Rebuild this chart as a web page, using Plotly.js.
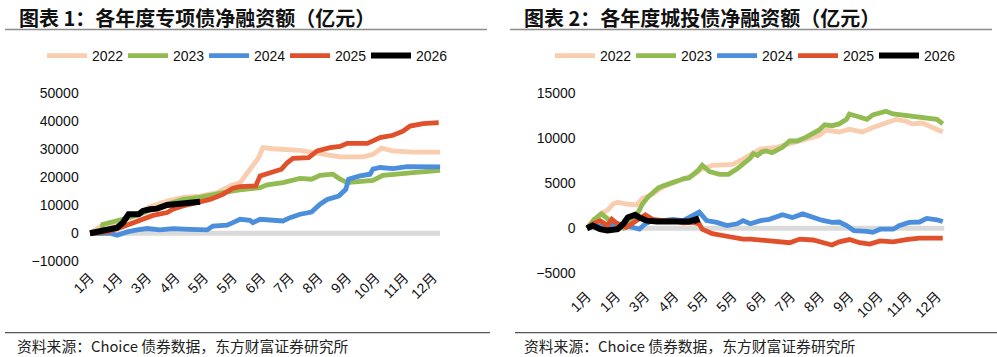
<!DOCTYPE html>
<html><head><meta charset="utf-8">
<script src="https://cdn.plot.ly/plotly-3.0.1.min.js"></script>
<style>html,body{margin:0;padding:0;background:#fff}</style>
</head><body><div id="chart" style="width:997px;height:357px"></div>
<script>
const years = ["2022", "2023", "2024", "2025", "2026"];
const lineColors = ["#F9CDB0", "#92BB52", "#4A8EDC", "#E0502A", "#000000"];
const monthTickVals = [0, 20, 40, 60, 80, 100, 120, 140, 160, 180, 200, 220, 240];
const monthTickText = ["1月", "1月", "3月", "4月", "5月", "5月", "6月", "7月", "8月", "9月", "10月", "11月", "12月"];
const y1TickVals = [-10000, 0, 10000, 20000, 30000, 40000, 50000];
const y1TickText = ["−10000", "0", "10000", "20000", "30000", "40000", "50000"];
const y2TickVals = [-5000, 0, 5000, 10000, 15000];
const y2TickText = ["−5000", "0", "5000", "10000", "15000"];

// 图表1 专项债净融资额 (x = 交易日序号, y = 亿元)
const sp2022x = [0, 9, 19, 30, 42, 54, 65, 77, 89, 98, 105, 110, 114, 118, 121, 128, 147, 159, 166, 175, 191, 198, 204, 212, 226, 245];
const sp2022y = [0, 3000, 3800, 6000, 9500, 11500, 12800, 13300, 14500, 16900, 18100, 21700, 24000, 27000, 30600, 30200, 29600, 28800, 28000, 27300, 27300, 28200, 30400, 29400, 29000, 29000];
const sp2023x = [0, 8, 9, 14, 23, 35, 42, 54, 65, 75, 86, 96, 105, 112, 119, 124, 135, 147, 155, 161, 170, 175, 180, 194, 198, 205, 217, 226, 245];
const sp2023y = [0, 0, 3200, 3800, 5000, 6800, 8300, 10400, 12100, 12700, 13900, 14800, 15500, 15700, 16300, 17300, 18100, 19600, 19300, 20700, 21100, 19300, 18100, 18700, 18900, 20700, 21100, 21700, 22500];
const sp2024x = [0, 14, 19, 26, 33, 40, 49, 58, 70, 82, 86, 96, 100, 105, 112, 114, 119, 135, 140, 147, 155, 161, 166, 174, 179, 181, 189, 196, 198, 203, 212, 222, 245];
const sp2024y = [0, 0, -700, 500, 1200, 1700, 1200, 1700, 1400, 1200, 2600, 2900, 3800, 5000, 4600, 3800, 5000, 4400, 5600, 6800, 7600, 10400, 12100, 13300, 15700, 19300, 20500, 21100, 22900, 23500, 23100, 23800, 23700];
const sp2025x = [0, 12, 21, 30, 37, 44, 54, 58, 65, 75, 84, 93, 100, 105, 116, 119, 128, 134, 138, 142, 153, 159, 168, 175, 180, 194, 198, 203, 212, 219, 224, 233, 244];
const sp2025y = [0, 500, 2000, 3800, 5000, 6400, 7400, 8600, 9800, 11000, 12100, 13900, 16100, 16700, 16900, 20500, 21700, 22900, 25200, 26800, 27000, 29400, 30600, 31000, 32100, 32100, 33000, 34200, 35000, 36500, 38300, 39200, 39500];
const sp2026x = [0, 12, 19, 23, 27, 34, 37, 42, 47, 54, 63, 70, 77];
const sp2026y = [0, 1400, 2000, 3800, 6800, 6800, 8000, 8600, 8800, 10100, 10600, 10700, 11300];

// 图表2 城投债净融资额
const ct2022x = [0, 5, 9, 14, 18, 21, 27, 34, 38, 45, 52, 59, 66, 73, 79, 86, 93, 100, 107, 112, 119, 130, 139, 150, 159, 164, 173, 180, 189, 196, 203, 212, 219, 223, 230, 237, 244];
const ct2022y = [0, 700, 1600, 2000, 2700, 2900, 2700, 2600, 3300, 3800, 4600, 5100, 5500, 5900, 6600, 7000, 7000, 7100, 7700, 8100, 8800, 9000, 9400, 9900, 10300, 10900, 10700, 11000, 10700, 11200, 11600, 12100, 11900, 11600, 11700, 11200, 10700];
const ct2023x = [0, 5, 10, 14, 19, 25, 29, 34, 38, 42, 45, 49, 52, 56, 59, 63, 66, 70, 73, 76, 79, 84, 91, 97, 103, 107, 112, 114, 117, 120, 123, 127, 130, 134, 139, 144, 150, 154, 159, 163, 168, 173, 178, 180, 185, 192, 196, 201, 205, 210, 216, 223, 228, 235, 240, 244];
const ct2023y = [0, 1000, 1600, 1000, 400, 0, 500, 1400, 2700, 3500, 4000, 4500, 4700, 5000, 5100, 5300, 5500, 5600, 6000, 6400, 7000, 6300, 6000, 6000, 6600, 7100, 7800, 8300, 8100, 8500, 8600, 8400, 8600, 9000, 9700, 9700, 10100, 10500, 10900, 11500, 11400, 11600, 12100, 12700, 12400, 12100, 12600, 12800, 13000, 12700, 12600, 12500, 12300, 12200, 12100, 11600];
const ct2024x = [0, 7, 14, 21, 27, 32, 36, 40, 45, 52, 59, 66, 73, 77, 82, 89, 96, 103, 107, 112, 119, 125, 134, 141, 148, 155, 161, 168, 173, 178, 183, 192, 196, 201, 210, 214, 221, 228, 233, 240, 244];
const ct2024y = [0, 300, 100, 500, 300, 0, -100, 500, 850, 850, 1000, 850, 1400, 1800, 850, 650, 300, 500, 850, 500, 850, 1000, 1500, 1200, 1600, 1200, 900, 650, 700, 300, -250, -350, -450, -100, -100, 300, 650, 700, 1100, 950, 750];
const ct2025x = [0, 4, 9, 14, 17, 21, 27, 32, 36, 40, 45, 52, 59, 66, 73, 77, 79, 86, 93, 100, 107, 112, 119, 126, 139, 146, 155, 161, 168, 173, 180, 187, 194, 201, 210, 219, 228, 237, 244];
const ct2025y = [0, 500, 850, 300, 1000, 500, 100, 650, 1200, 1500, 1000, 850, 850, 600, 650, 500, -100, -600, -800, -1000, -1200, -1200, -1300, -1400, -1600, -1200, -1300, -1550, -1850, -1500, -1250, -1600, -1750, -1400, -1500, -1250, -1100, -1100, -1100];
const ct2026x = [0, 4, 9, 14, 21, 25, 28, 33, 36, 41, 48, 57, 66, 70, 75, 76];
const ct2026y = [0, 300, -100, -250, -100, 500, 1200, 1500, 1200, 850, 750, 750, 850, 750, 1000, 600];

const panel1X = [sp2022x, sp2023x, sp2024x, sp2025x, sp2026x];
const panel1Y = [sp2022y, sp2023y, sp2024y, sp2025y, sp2026y];
const panel2X = [ct2022x, ct2023x, ct2024x, ct2025x, ct2026x];
const panel2Y = [ct2022y, ct2023y, ct2024y, ct2025y, ct2026y];

const traces = [];
years.forEach((yr, i) => {
  traces.push({
    type: 'scatter', mode: 'lines', name: yr, x: panel1X[i], y: panel1Y[i],
    xaxis: 'x', yaxis: 'y', legend: 'legend',
    line: {color: lineColors[i], width: i === 4 ? 6 : 4.8, shape: 'linear'}
  });
});
years.forEach((yr, i) => {
  traces.push({
    type: 'scatter', mode: 'lines', name: yr, x: panel2X[i], y: panel2Y[i],
    xaxis: 'x2', yaxis: 'y2', legend: 'legend2',
    line: {color: lineColors[i], width: i === 4 ? 6 : 4.8, shape: 'linear'}
  });
});

const W = 997, H = 357;
const px = v => v / W;
const py = v => (H - v) / H;
const tickFont = {family: 'Liberation Sans, Arial, Noto Sans CJK SC', size: 14, color: '#111'};
const xBase = {
  tickmode: 'array', tickvals: monthTickVals, ticktext: monthTickText, tickangle: -45,
  range: [-3, 248], showgrid: false, zeroline: false, showline: false, ticks: '',
  tickfont: tickFont, fixedrange: true
};
const yBase = {showgrid: false, zeroline: false, showline: false, ticks: '', tickfont: tickFont, ticklabelstandoff: 6, fixedrange: true, tickmode: 'array'};
const legendFont = {family: 'Liberation Sans, Arial', size: 14, color: '#111'};

const layout = {
  width: W, height: H, margin: {l: 0, r: 0, t: 0, b: 0},
  paper_bgcolor: '#fff', plot_bgcolor: '#fff',
  xaxis: Object.assign({}, xBase, {domain: [px(85.7), px(444.4)], anchor: 'y'}),
  yaxis: Object.assign({}, yBase, {domain: [py(266), py(87.7)], range: [-11680, 52000], tickvals: y1TickVals, ticktext: y1TickText, anchor: 'x'}),
  xaxis2: Object.assign({}, xBase, {domain: [px(582.6), px(948.6)], anchor: 'y2'}),
  yaxis2: Object.assign({}, yBase, {domain: [py(284.7), py(87.9)], range: [-6267, 15600], tickvals: y2TickVals, ticktext: y2TickText, anchor: 'x2'}),
  showlegend: true,
  legend: {orientation: 'h', x: px(244.5), xanchor: 'center', y: py(56), yanchor: 'middle',
    font: legendFont, itemwidth: 40, entrywidth: 26, entrywidthmode: 'pixels', tracegroupgap: 0, bgcolor: 'rgba(0,0,0,0)'},
  legend2: {orientation: 'h', x: px(752.5), xanchor: 'center', y: py(56), yanchor: 'middle',
    font: legendFont, itemwidth: 40, entrywidth: 26, entrywidthmode: 'pixels', tracegroupgap: 0, bgcolor: 'rgba(0,0,0,0)'},
  shapes: [
    {type: 'line', xref: 'x', yref: 'y', x0: 0, x1: 245, y0: 0, y1: 0, line: {color: '#DADADA', width: 5}, layer: 'below'},
    {type: 'line', xref: 'x2', yref: 'y2', x0: 0, x1: 245, y0: 0, y1: 0, line: {color: '#DADADA', width: 5}, layer: 'below'},
    {type: 'line', xref: 'paper', yref: 'paper', x0: px(5), x1: px(487), y0: py(29.5), y1: py(29.5), line: {color: '#8c8c8c', width: 1.6}},
    {type: 'line', xref: 'paper', yref: 'paper', x0: px(510), x1: px(992), y0: py(29.5), y1: py(29.5), line: {color: '#8c8c8c', width: 1.6}},
    {type: 'line', xref: 'paper', yref: 'paper', x0: px(5), x1: px(490), y0: py(332.7), y1: py(332.7), line: {color: '#555', width: 1.2}},
    {type: 'line', xref: 'paper', yref: 'paper', x0: px(515), x1: px(997), y0: py(332.7), y1: py(332.7), line: {color: '#555', width: 1.2}}
  ],
  annotations: [
    {xref: 'paper', yref: 'paper', x: px(17), y: py(17), xanchor: 'left', yanchor: 'middle', showarrow: false,
      text: '<b>图表 1：各年度专项债净融资额（亿元）</b>', font: {family: 'Noto Sans CJK SC', size: 20, color: '#111'}},
    {xref: 'paper', yref: 'paper', x: px(522), y: py(17), xanchor: 'left', yanchor: 'middle', showarrow: false,
      text: '<b>图表 2：各年度城投债净融资额（亿元）</b>', font: {family: 'Noto Sans CJK SC', size: 20, color: '#111'}},
    {xref: 'paper', yref: 'paper', x: px(16), y: py(345.5), xanchor: 'left', yanchor: 'middle', showarrow: false, borderpad: 0,
      text: '资料来源：Choice 债券数据，东方财富证券研究所', font: {family: 'Noto Sans CJK SC', size: 14.8, color: '#222'}},
    {xref: 'paper', yref: 'paper', x: px(523), y: py(345.5), xanchor: 'left', yanchor: 'middle', showarrow: false, borderpad: 0,
      text: '资料来源：Choice 债券数据，东方财富证券研究所', font: {family: 'Noto Sans CJK SC', size: 14.8, color: '#222'}}
  ]
};

Plotly.newPlot('chart', traces, layout, {staticPlot: true, displayModeBar: false});
</script>
</body></html>
